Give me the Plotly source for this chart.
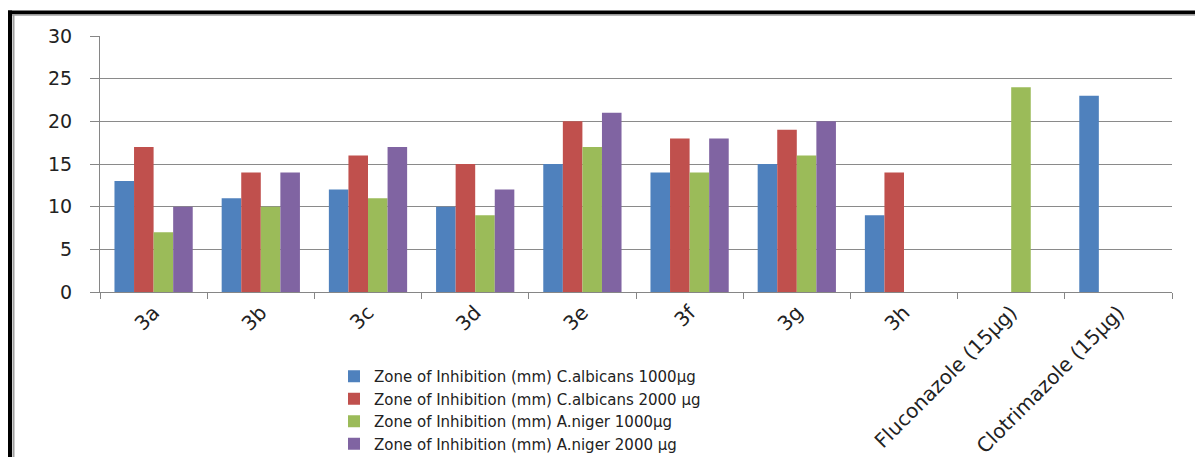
import plotly.graph_objects as go

categories = ["3a", "3b", "3c", "3d", "3e", "3f", "3g", "3h",
              "Fluconazole (15µg)", "Clotrimazole (15µg)"]
series_names = [
    "Zone of Inhibition (mm) C.albicans 1000µg",
    "Zone of Inhibition (mm) C.albicans 2000 µg",
    "Zone of Inhibition (mm) A.niger 1000µg",
    "Zone of Inhibition (mm) A.niger 2000 µg",
]
calb_1000 = [13, 11, 12, 10, 15, 14, 15, 9, None, 23]
calb_2000 = [17, 14, 16, 15, 20, 18, 19, 14, None, None]
aniger_1000 = [7, 10, 11, 9, 17, 14, 16, None, 24, None]
aniger_2000 = [10, 14, 17, 12, 21, 18, 20, None, None, None]
y_ticks = [0, 5, 10, 15, 20, 25, 30]

colors = ["#4F81BD", "#C0504D", "#9BBB59", "#8064A2"]
series_values = [calb_1000, calb_2000, aniger_1000, aniger_2000]

W, H = 1195, 457
L, R, T, B = 100, 1172, 36, 292

fig = go.Figure()
for name, vals, c in zip(series_names, series_values, colors):
    fig.add_trace(go.Bar(x=categories, y=vals, name=name,
                         marker=dict(color=c, line=dict(width=0))))

def px(x):
    return (x - L) / (R - L)

def py(y):
    return (B - y) / (B - T)

shapes = [
    # outer frame: top and left thick black lines with grey inner edge
    dict(type="line", xref="paper", yref="paper", x0=px(8), x1=px(1195),
         y0=py(12.5), y1=py(12.5), line=dict(color="black", width=4)),
    dict(type="line", xref="paper", yref="paper", x0=px(12), x1=px(1195),
         y0=py(15), y1=py(15), line=dict(color="#A0A0A0", width=1.5)),
    dict(type="line", xref="paper", yref="paper", x0=px(10), x1=px(10),
         y0=py(10.5), y1=py(460), line=dict(color="black", width=4)),
    dict(type="line", xref="paper", yref="paper", x0=px(13.5), x1=px(13.5),
         y0=py(14), y1=py(460), line=dict(color="#A0A0A0", width=2)),
]

fig.update_layout(
    width=W, height=H,
    margin=dict(l=L, r=W - R, t=T, b=H - B, pad=0, autoexpand=False),
    paper_bgcolor="white", plot_bgcolor="white",
    barmode="group", bargap=0.27, bargroupgap=0,
    font=dict(family="DejaVu Sans", color="#222222"),
    shapes=shapes,
    showlegend=True,
    legend=dict(x=px(334), y=py(360), xanchor="left", yanchor="top",
                font=dict(size=15, family="DejaVu Sans", color="#222222"),
                bgcolor="rgba(0,0,0,0)", tracegroupgap=0, itemclick=False),
    xaxis=dict(type="category", tickangle=-45, ticks="outside",
               tickson="boundaries", ticklen=6, tickcolor="#868686",
               showline=True, linecolor="#868686", linewidth=1,
               tickfont=dict(size=20, family="DejaVu Sans", color="#222222"),
               showgrid=False, fixedrange=True, automargin=False),
    yaxis=dict(range=[0, 30], tickvals=y_ticks, ticks="outside",
               ticklen=9, tickcolor="#868686",
               showline=True, linecolor="#868686", linewidth=1,
               showgrid=True, gridcolor="#8A8A8A", gridwidth=1,
               zeroline=False, ticklabelstandoff=14,
               tickfont=dict(size=19, family="DejaVu Sans", color="#222222"),
               fixedrange=True, automargin=False),
)

fig.write_html("out.html")
